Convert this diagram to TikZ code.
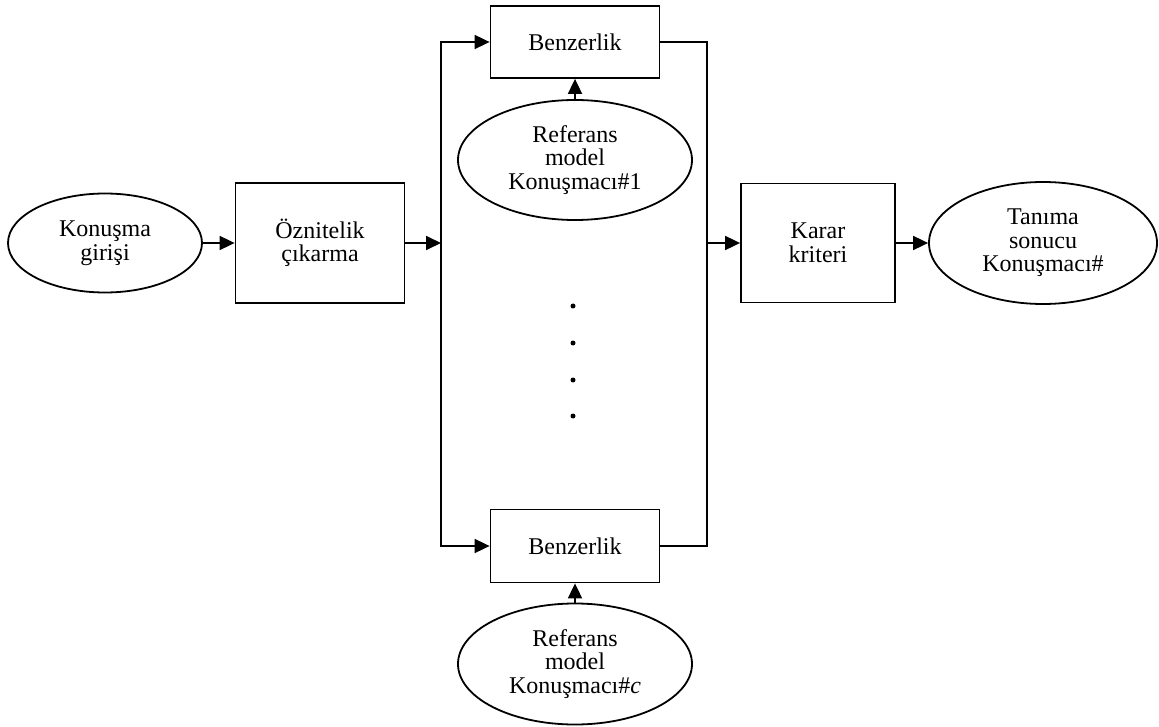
\documentclass[tikz,border=0pt]{standalone}
\usepackage{fontspec}
\setmainfont{Liberation Serif}
\usetikzlibrary{shapes.geometric,arrows.meta}
\begin{document}
\begin{tikzpicture}[x=1pt,y=-1pt,
  every node/.style={font=\fontsize{24}{23.5}\selectfont, align=center, line width=1.8pt},
  boxnode/.style={draw, rectangle, inner sep=0pt},
  ellnode/.style={draw, ellipse, inner sep=0pt},
  conn/.style={line width=1.8pt},
  arr/.style={conn, -{Triangle[length=15pt,width=14pt]}},
  dotmark/.style={fill=black, circle, inner sep=0pt, minimum size=5pt}
]
\useasboundingbox (0,0) rectangle (1159,727);
\node[ellnode, minimum width=194pt, minimum height=99pt] (kg) at (105,243) {Konuşma\\girişi};
\node[boxnode, minimum width=169pt, minimum height=120pt] (oz) at (320,243) {Öznitelik\\çıkarma};
\node[boxnode, minimum width=169pt, minimum height=72pt] (b1) at (575,42) {Benzerlik};
\node[ellnode, minimum width=234pt, minimum height=120pt] (r1) at (575,160) {Referans\\model\\Konuşmacı\#1};
\node[boxnode, minimum width=169pt, minimum height=73pt] (b2) at (575,546) {Benzerlik};
\node[ellnode, minimum width=234pt, minimum height=121pt] (r2) at (575,664) {Referans\\model\\Konuşmacı\#\textit{c}};
\node[boxnode, minimum width=154pt, minimum height=119pt] (kk) at (818,243) {Karar\\kriteri};
\node[ellnode, minimum width=228pt, minimum height=122pt] (tn) at (1043,243) {Tanıma\\sonucu\\Konuşmacı\#};
\coordinate (split) at (441,243);
\coordinate (merge) at (707,243);
\node[dotmark] (d1) at (573,306) {};
\node[dotmark] (d2) at (573,343) {};
\node[dotmark] (d3) at (573,380) {};
\node[dotmark] (d4) at (573,416) {};
\draw[arr] (kg) -- (oz);
\draw[arr] (oz) -- (split);
\draw[arr] (split) |- (b1.west);
\draw[arr] (split) |- (b2.west);
\draw[conn] (b1.east) -| (merge);
\draw[conn] (b2.east) -| (merge);
\draw[arr] (merge) -- (kk.west);
\draw[arr] (kk) -- (tn);
\draw[arr] (r1) -- (b1);
\draw[arr] (r2) -- (b2);
\end{tikzpicture}
\end{document}
